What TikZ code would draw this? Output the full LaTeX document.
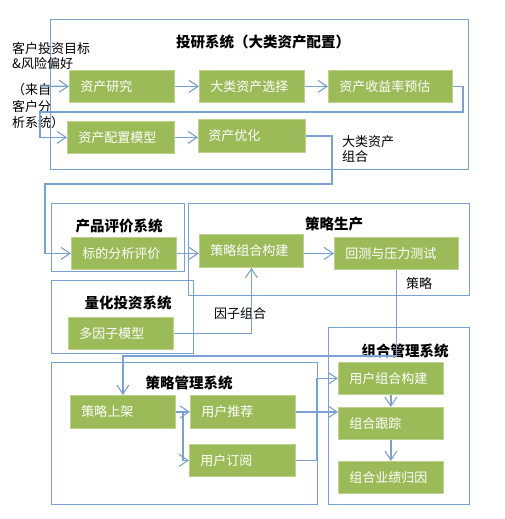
\documentclass[tikz,border=0pt]{standalone}
\usepackage{fontspec}
\setmainfont{Noto Sans CJK SC}
\usetikzlibrary{arrows.meta}
\definecolor{gfill}{RGB}{155,187,89}
\definecolor{gedge}{RGB}{190,210,140}
\definecolor{lblue}{RGB}{122,160,212}
\newcommand{\bxf}{\fontsize{13}{15}\selectfont}
\newcommand{\ttlf}{\fontsize{14.5}{17}\selectfont\bfseries}
\newcommand{\lblf}{\fontsize{13}{15}\selectfont}
\begin{document}
\begin{tikzpicture}[x=1pt,y=-1pt,
  gbox/.style={draw=gedge,line width=0.8pt,fill=gfill,text=white,font=\bxf,anchor=north west,
    inner xsep=11pt,inner ysep=0pt,minimum height=32pt,align=left},
  frame/.style={draw=lblue,line width=1.3pt,anchor=north west,inner sep=0pt},
  ttl/.style={font=\ttlf,inner sep=0pt,text=black},
  lbl/.style={font=\lblf,align=left,anchor=west,inner sep=0pt,text=black},
  conn/.style={draw=lblue,line width=1.3pt,-{Straight Barb[length=9pt,width=12pt,line width=1.1pt]}}]
\useasboundingbox (0,0) rectangle (504,519);
% frames
\node[frame,minimum width=418pt,minimum height=150pt] (F1) at (50,19) {};
\node[frame,minimum width=133pt,minimum height=68pt] (F2) at (51,203) {};
\node[frame,minimum width=281pt,minimum height=92pt] (F3) at (188,203) {};
\node[frame,minimum width=142pt,minimum height=73pt] (F4) at (51,280) {};
\node[frame,minimum width=141pt,minimum height=177pt] (F5) at (328,327) {};
\node[frame,minimum width=266pt,minimum height=142pt] (F6) at (51,362) {};
% titles
\node[ttl] (t1) at (263,42) {投研系统（大类资产配置）};
\node[ttl] (t2) at (119,226) {产品评价系统};
\node[ttl] (t3) at (334,224) {策略生产};
\node[ttl] (t4) at (128,303) {量化投资系统};
\node[ttl] (t5) at (405,351) {组合管理系统};
\node[ttl] (t6) at (189,383) {策略管理系统};
% green boxes
\node[gbox,text width=83pt] (r1) at (69,70) {资产研究};
\node[gbox,text width=83pt] (r2) at (199,70) {大类资产选择};
\node[gbox,text width=102pt] (r3) at (328,70) {资产收益率预估};
\node[gbox,text width=85pt] (r4) at (67,121) {资产配置模型};
\node[gbox,text width=87pt,inner xsep=10pt,minimum height=33pt] (r5) at (198,119) {资产优化};
\node[gbox,text width=83pt] (p1) at (71,237) {标的分析评价};
\node[gbox,text width=82pt,minimum height=33pt] (s1) at (199,234) {策略组合构建};
\node[gbox,text width=102pt] (s2) at (334,237) {回测与压力测试};
\node[gbox,text width=83pt] (q1) at (68,317) {多因子模型};
\node[gbox,text width=83pt,minimum height=33pt] (m1) at (70,395) {策略上架};
\node[gbox,text width=83pt,minimum height=33pt] (m2) at (190,395) {用户推荐};
\node[gbox,text width=84pt] (m3) at (189,444) {用户订阅};
\node[gbox,text width=83pt] (c1) at (338,362) {用户组合构建};
\node[gbox,text width=83pt] (c2) at (338,407) {组合跟踪};
\node[gbox,text width=83pt] (c3) at (338,461) {组合业绩归因};
% labels
\node[lbl] (l1) at (12,56.5) {客户投资目标\\\&风险偏好};
\node[lbl,font=\fontsize{13}{16.5}\selectfont] (l2) at (12,106.5) {（来自\\客户分\\析系统）};
\node[lbl] (l3) at (342,149.5) {大类资产\\组合};
\node[lbl] (l4) at (214,314) {因子组合};
\node[lbl] (l5) at (406,284) {策略};
% helper coordinates
\coordinate (in0) at (40,86);
\coordinate (k1) at (463,112);
\coordinate (k2) at (40,112);
\coordinate (k3) at (332,184);
\coordinate (k4) at (45,184);
\coordinate (y356) at (122.5,356);
\coordinate (br) at (183,0);
\coordinate (k6) at (317,0);
% connectors
\draw[conn] (in0) -- (r1.west);
\draw[conn] (r1.east) -- (r2.west);
\draw[conn] (r2.east) -- (r3.west);
\draw[conn] (r3.east) -| (k1) -- (k2) |- (r4.west);
\draw[conn] (r4.east) -- (r4.east -| r5.west);
\draw[conn] (r5.east) -| (k3) -- (k4) |- (p1.west);
\draw[conn] (p1.east) -- (p1.east -| s1.west);
\draw[conn] (s1.east |- s2.west) -- (s2.west);
\draw[conn] (q1.east) -| (s1.south);
\draw[conn] (s2.south) -- (s2.south |- y356) -| (m1.north);
\draw[conn] (m1.east) -- (m2.west);
\draw[conn] (m1.east -| br) |- (m3.west);
\draw[conn] (m2.east) -- (m2.east -| c2.west);
\draw[conn] (m3.east) -| (k6 |- c1.west) -- (c1.west);
\draw[conn] (c1.south) -- (c2.north);
\draw[conn] (c2.south) -- (c3.north);
\end{tikzpicture}
\end{document}
